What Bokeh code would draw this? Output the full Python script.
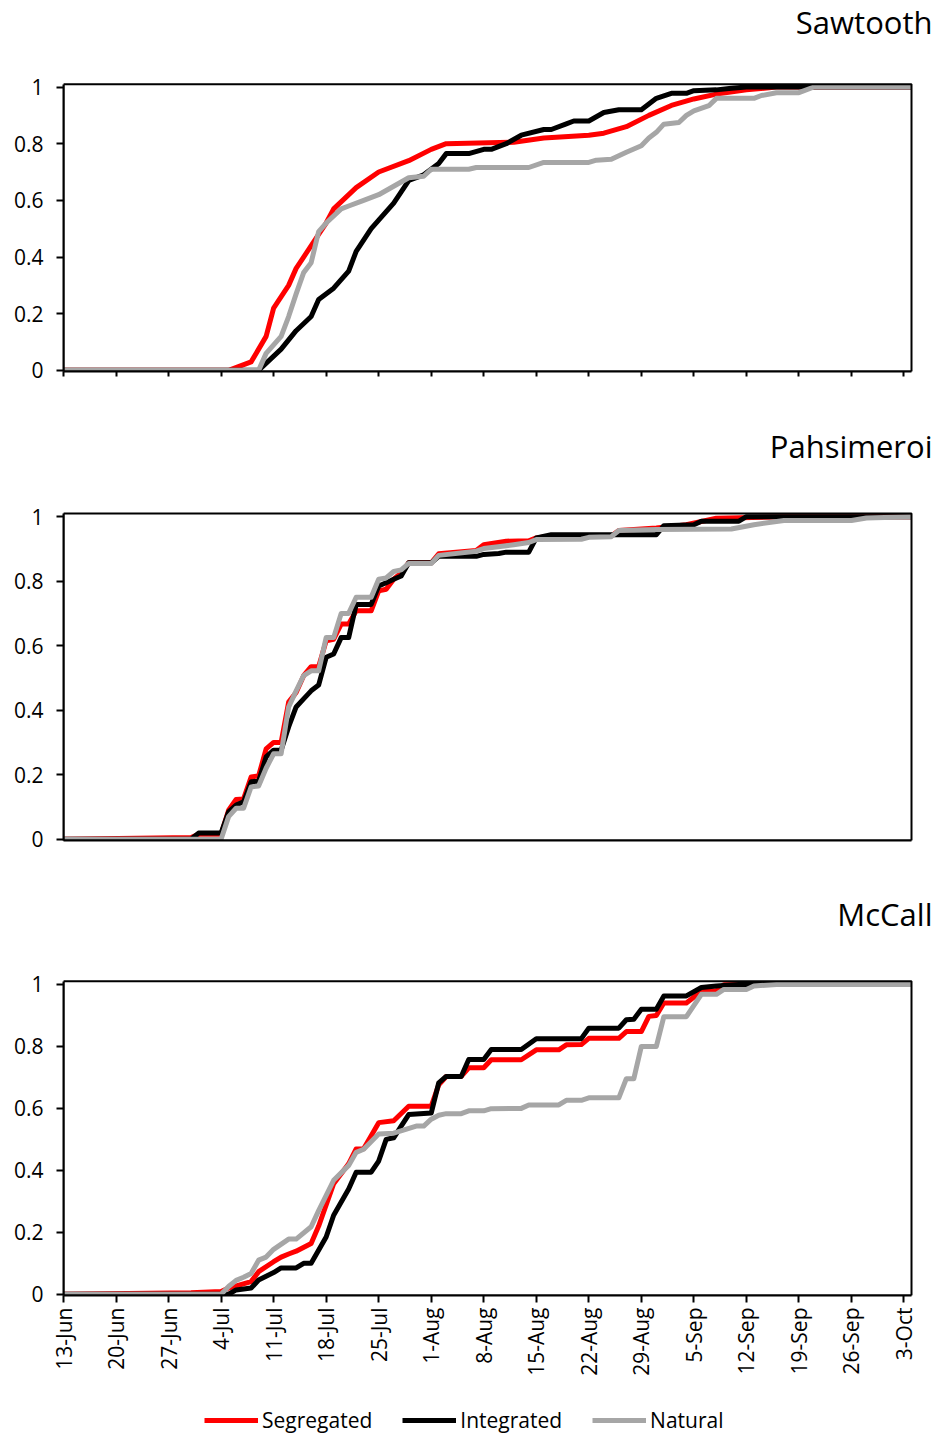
import math
import pandas as pd
from bokeh.plotting import figure
from bokeh.layouts import column
from bokeh.models import (Range1d, FixedTicker, CustomJSTickFormatter, Label,
                          Legend, LegendItem, BoxAnnotation)
from bokeh.embed import file_html
from bokeh.resources import INLINE

YEAR = 2013
START = "06-13"

tick_labels = ["13-Jun", "20-Jun", "27-Jun", "4-Jul", "11-Jul", "18-Jul", "25-Jul",
               "1-Aug", "8-Aug", "15-Aug", "22-Aug", "29-Aug", "5-Sep", "12-Sep",
               "19-Sep", "26-Sep", "3-Oct"]
y_ticks = [0, 0.2, 0.4, 0.6, 0.8, 1]
panel_titles = ["Sawtooth", "Pahsimeroi", "McCall"]
series_names = ["Segregated", "Integrated", "Natural"]
series_colors = ["#FF0000", "#000000", "#A6A6A6"]

# ---- Sawtooth ----
saw_seg_dates = ["06-13", "07-05", "07-08", "07-10", "07-11", "07-13", "07-14", "07-15", "07-17", "07-18",
                 "07-19", "07-22", "07-25", "07-29", "08-01", "08-03", "08-12", "08-16", "08-22", "08-24",
                 "08-27", "08-30", "09-02", "09-05", "09-08", "09-12", "09-16", "10-04"]
saw_seg_vals = [0, 0, 0.03, 0.12, 0.22, 0.30, 0.36, 0.40, 0.48, 0.52,
                0.57, 0.645, 0.70, 0.74, 0.78, 0.80, 0.805, 0.82, 0.83, 0.837,
                0.86, 0.90, 0.935, 0.958, 0.975, 0.99, 1.0, 1.0]
saw_int_dates = ["06-13", "07-09", "07-12", "07-14", "07-16", "07-17", "07-19", "07-21", "07-22", "07-24",
                 "07-25", "07-27", "07-28", "07-29", "07-31", "08-02", "08-03", "08-06", "08-08", "08-09",
                 "08-11", "08-13", "08-16", "08-17", "08-19", "08-20", "08-22", "08-24", "08-26", "08-29",
                 "08-31", "09-02", "09-04", "09-05", "09-08", "09-10", "09-12", "10-04"]
saw_int_vals = [0, 0, 0.075, 0.14, 0.19, 0.25, 0.29, 0.35, 0.42, 0.50,
                0.53, 0.59, 0.63, 0.67, 0.69, 0.73, 0.765, 0.765, 0.78, 0.78,
                0.80, 0.83, 0.85, 0.85, 0.87, 0.88, 0.88, 0.91, 0.92, 0.92,
                0.96, 0.978, 0.978, 0.987, 0.99, 0.996, 1.0, 1.0]
saw_nat_dates = ["06-13", "07-09", "07-10", "07-12", "07-13", "07-14", "07-15", "07-16", "07-17", "07-18",
                 "07-20", "07-21", "07-23", "07-25", "07-27", "07-29", "07-31", "08-01", "08-06", "08-07",
                 "08-14", "08-16", "08-22", "08-23", "08-25", "08-27", "08-29", "08-30", "08-31", "09-01",
                 "09-03", "09-04", "09-05", "09-07", "09-08", "09-13", "09-14", "09-16", "09-19", "09-21",
                 "10-04"]
saw_nat_vals = [0, 0, 0.06, 0.12, 0.19, 0.27, 0.345, 0.38, 0.49, 0.52,
                0.57, 0.58, 0.60, 0.62, 0.65, 0.68, 0.685, 0.71, 0.71, 0.716,
                0.716, 0.734, 0.734, 0.742, 0.745, 0.77, 0.793, 0.82, 0.84, 0.869,
                0.875, 0.90, 0.916, 0.934, 0.96, 0.96, 0.97, 0.98, 0.98, 1.0,
                1.0]

# ---- Pahsimeroi ----
pah_seg_dates = ["06-13", "06-30", "07-01", "07-04", "07-05", "07-06", "07-07", "07-08", "07-09", "07-10",
                 "07-11", "07-12", "07-13", "07-14", "07-15", "07-16", "07-17", "07-18", "07-19", "07-20",
                 "07-21", "07-22", "07-24", "07-25", "07-26", "07-27", "07-28", "07-29", "08-01", "08-02",
                 "08-07", "08-08", "08-11", "08-14", "08-15", "08-17", "08-25", "08-26", "08-31", "09-04",
                 "09-08", "09-17", "10-04"]
pah_seg_vals = [0, 0.005, 0.015, 0.015, 0.09, 0.123, 0.125, 0.193, 0.196, 0.28,
                0.30, 0.30, 0.425, 0.455, 0.507, 0.535, 0.535, 0.615, 0.62, 0.667,
                0.667, 0.708, 0.708, 0.77, 0.775, 0.806, 0.826, 0.857, 0.857, 0.885,
                0.895, 0.913, 0.924, 0.925, 0.934, 0.94, 0.94, 0.957, 0.965, 0.975,
                0.995, 1.0, 1.0]
pah_int_dates = ["06-13", "06-30", "07-01", "07-04", "07-05", "07-06", "07-07", "07-08", "07-09", "07-10",
                 "07-11", "07-12", "07-13", "07-14", "07-15", "07-16", "07-17", "07-18", "07-19", "07-20",
                 "07-21", "07-22", "07-24", "07-25", "07-26", "07-27", "07-28", "07-29", "08-01", "08-02",
                 "08-07", "08-08", "08-10", "08-11", "08-14", "08-15", "08-17", "08-31", "09-01", "09-05",
                 "09-06", "09-11", "09-12", "10-04"]
pah_int_vals = [0, 0, 0.019, 0.019, 0.085, 0.106, 0.116, 0.178, 0.18, 0.255,
                0.276, 0.276, 0.348, 0.41, 0.435, 0.46, 0.478, 0.564, 0.574, 0.625,
                0.625, 0.728, 0.728, 0.785, 0.795, 0.806, 0.816, 0.857, 0.857, 0.877,
                0.877, 0.883, 0.886, 0.89, 0.89, 0.934, 0.944, 0.944, 0.972, 0.975,
                0.986, 0.986, 1.0, 1.0]
pah_nat_dates = ["06-13", "07-04", "07-05", "07-06", "07-07", "07-08", "07-09", "07-10", "07-11", "07-12",
                 "07-13", "07-14", "07-15", "07-16", "07-17", "07-18", "07-19", "07-20", "07-21", "07-22",
                 "07-24", "07-25", "07-26", "07-27", "07-28", "07-29", "08-01", "08-02", "08-07", "08-08",
                 "08-11", "08-12", "08-14", "08-15", "08-21", "08-22", "08-25", "08-26", "08-31", "09-10",
                 "09-13", "09-17", "09-26", "09-28", "10-04"]
pah_nat_vals = [0, 0, 0.07, 0.096, 0.096, 0.162, 0.165, 0.22, 0.265, 0.265,
                0.41, 0.46, 0.507, 0.522, 0.522, 0.625, 0.625, 0.70, 0.70, 0.75,
                0.75, 0.806, 0.81, 0.83, 0.835, 0.855, 0.855, 0.88, 0.893, 0.901,
                0.91, 0.913, 0.92, 0.929, 0.93, 0.936, 0.938, 0.957, 0.96, 0.962,
                0.975, 0.988, 0.988, 0.996, 1.0]

# ---- McCall ----
mcc_seg_dates = ["06-13", "06-30", "07-04", "07-05", "07-08", "07-09", "07-11", "07-12", "07-13", "07-14",
                 "07-16", "07-17", "07-19", "07-21", "07-22", "07-23", "07-25", "07-27", "07-29", "08-01",
                 "08-02", "08-03", "08-05", "08-06", "08-08", "08-09", "08-13", "08-15", "08-18", "08-19",
                 "08-21", "08-22", "08-26", "08-27", "08-29", "08-30", "08-31", "09-01", "09-04", "09-06",
                 "09-08", "09-09", "09-12", "10-04"]
mcc_seg_vals = [0, 0.005, 0.009, 0.02, 0.041, 0.073, 0.105, 0.12, 0.13, 0.139,
                0.164, 0.22, 0.357, 0.421, 0.469, 0.47, 0.554, 0.56, 0.607, 0.607,
                0.676, 0.703, 0.703, 0.731, 0.731, 0.757, 0.757, 0.789, 0.789, 0.805,
                0.806, 0.826, 0.826, 0.848, 0.848, 0.897, 0.90, 0.94, 0.94, 0.978,
                0.98, 0.999, 1.0, 1.0]
mcc_int_dates = ["06-13", "07-05", "07-06", "07-08", "07-09", "07-11", "07-12", "07-14", "07-15", "07-16",
                 "07-18", "07-19", "07-21", "07-22", "07-24", "07-25", "07-26", "07-27", "07-28", "07-29",
                 "08-01", "08-02", "08-03", "08-05", "08-06", "08-08", "08-09", "08-13", "08-15", "08-21",
                 "08-22", "08-26", "08-27", "08-28", "08-29", "08-31", "09-01", "09-04", "09-06", "09-08",
                 "09-11", "10-04"]
mcc_int_vals = [0, 0, 0.014, 0.02, 0.046, 0.07, 0.085, 0.085, 0.10, 0.10,
                0.185, 0.255, 0.34, 0.394, 0.394, 0.43, 0.50, 0.505, 0.543, 0.58,
                0.585, 0.682, 0.703, 0.703, 0.758, 0.758, 0.79, 0.79, 0.825, 0.825,
                0.859, 0.859, 0.886, 0.888, 0.92, 0.92, 0.963, 0.963, 0.99, 0.995,
                1.0, 1.0]
mcc_nat_dates = ["06-13", "07-04", "07-05", "07-06", "07-07", "07-08", "07-09", "07-10", "07-11", "07-13",
                 "07-14", "07-16", "07-17", "07-19", "07-21", "07-22", "07-23", "07-25", "07-27", "07-30",
                 "07-31", "08-01", "08-02", "08-03", "08-05", "08-06", "08-08", "08-09", "08-13", "08-14",
                 "08-18", "08-19", "08-21", "08-22", "08-26", "08-27", "08-28", "08-29", "08-31", "09-01",
                 "09-04", "09-06", "09-08", "09-09", "09-12", "09-13", "09-16", "10-04"]
mcc_nat_vals = [0, 0, 0.025, 0.045, 0.055, 0.067, 0.11, 0.12, 0.145, 0.178,
                0.178, 0.218, 0.27, 0.368, 0.416, 0.458, 0.468, 0.517, 0.52, 0.543,
                0.543, 0.565, 0.578, 0.583, 0.583, 0.592, 0.592, 0.599, 0.60, 0.611,
                0.611, 0.626, 0.626, 0.634, 0.634, 0.696, 0.696, 0.80, 0.80, 0.896,
                0.896, 0.968, 0.968, 0.984, 0.984, 0.995, 1.0, 1.0]

panel_data = [
    [(saw_seg_dates, saw_seg_vals), (saw_int_dates, saw_int_vals), (saw_nat_dates, saw_nat_vals)],
    [(pah_seg_dates, pah_seg_vals), (pah_int_dates, pah_int_vals), (pah_nat_dates, pah_nat_vals)],
    [(mcc_seg_dates, mcc_seg_vals), (mcc_int_dates, mcc_int_vals), (mcc_nat_dates, mcc_nat_vals)],
]

t0 = pd.Timestamp(f"{YEAR}-{START}")


def to_days(dates):
    return [(pd.Timestamp(f"{YEAR}-{d}") - t0).days for d in dates]


tick_days = [(pd.to_datetime(f"{lab}-{YEAR}", format="%d-%b-%Y") - t0).days for lab in tick_labels]
x_end = tick_days[-1] + 1          # plot area ends one day after the last tick

FONT = "Open Sans"
W = 938
LEFT = 63                 # left border
RIGHT = 2                 # right border of the (extended) frame
PLOT_W = 848              # width of the drawn plot area
FRAME_W = W - LEFT - RIGHT
x_range_end = x_end * FRAME_W / PLOT_W
Y0, Y1, YTOP = -0.004, 1.01, 1.016
LINE_W = 5
TITLE_PX = 31
TITLE_MID = 12            # distance from text centre down to its baseline, px


def bare_fig(height):
    f = figure(width=W, height=height, min_border_left=LEFT, min_border_right=RIGHT,
               min_border_top=0, min_border_bottom=0,
               output_backend="svg", toolbar_location=None,
               x_axis_type=None, y_axis_type=None,
               x_range=Range1d(0, 1), y_range=Range1d(0, 1),
               background_fill_color="white", border_fill_color="white")
    f.outline_line_color = None
    f.xgrid.visible = False
    f.ygrid.visible = False
    return f


def title_fig(text, height, baseline_from_top):
    f = bare_fig(height)
    centre_from_bottom = height - (baseline_from_top - TITLE_MID)
    f.add_layout(Label(x=FRAME_W - 4, y=centre_from_bottom, x_units="screen", y_units="screen",
                       text=text, text_align="right", text_baseline="middle",
                       text_font=FONT, text_font_size=f"{TITLE_PX}px", text_color="black"))
    return f


# per panel: title strip height, title baseline (from top of strip),
#            frame height, top border, bottom border
layout_spec = [(66, 33.5, 289, 16, 49),
               (75, 37.5, 329, 16, 50),
               (75, 35.5, 316, 14, 85)]

blocks = []
for i, (title, series) in enumerate(zip(panel_titles, panel_data)):
    th, tb, fh, bt, bb = layout_spec[i]
    blocks.append(title_fig(title, th, tb))

    p = figure(frame_width=FRAME_W, frame_height=fh,
               x_range=Range1d(0, x_range_end), y_range=Range1d(Y0, YTOP),
               min_border_left=LEFT, min_border_right=RIGHT,
               min_border_top=bt, min_border_bottom=bb,
               output_backend="svg", toolbar_location=None,
               background_fill_color="white", border_fill_color="white")
    p.xgrid.visible = False
    p.ygrid.visible = False
    p.outline_line_color = None
    # plot-area border
    p.add_layout(BoxAnnotation(left=0, right=x_end, bottom=Y0, top=Y1,
                               fill_alpha=0, line_color="black", line_alpha=1, line_width=2))

    for (dts, vals), color in zip(series, series_colors):
        p.line(to_days(dts), vals, line_color=color, line_width=LINE_W, line_join="round")

    ya = p.yaxis[0]
    ya.ticker = FixedTicker(ticks=y_ticks)
    ya.formatter = CustomJSTickFormatter(code="return String(Math.round(tick*10)/10);")
    ya.bounds = (Y0, Y1)
    ya.axis_line_width = 2
    ya.major_tick_line_width = 2
    ya.major_tick_out = 7
    ya.major_tick_in = 0
    ya.minor_tick_line_color = None
    ya.major_label_standoff = 13
    ya.major_label_text_font = FONT
    ya.major_label_text_font_size = "21px"
    ya.major_label_text_color = "black"

    xa = p.xaxis[0]
    xa.ticker = FixedTicker(ticks=tick_days)
    xa.bounds = (0, x_end)
    xa.axis_line_width = 2
    xa.major_tick_line_width = 2
    xa.major_tick_in = 0
    xa.minor_tick_line_color = None
    if i == 2:
        xa.formatter = CustomJSTickFormatter(
            args=dict(tdays=tick_days, tlabels=tick_labels),
            code="const k = tdays.indexOf(Math.round(tick)); return k >= 0 ? tlabels[k] : '';")
        xa.major_tick_out = 7
        xa.major_label_orientation = math.pi / 2
        xa.major_label_standoff = 5
        xa.major_label_text_font = FONT
        xa.major_label_text_font_size = "21px"
        xa.major_label_text_color = "black"
    elif i == 0:
        xa.formatter = CustomJSTickFormatter(code="return '';")
        xa.major_tick_out = 5
    else:
        xa.formatter = CustomJSTickFormatter(code="return '';")
        xa.major_tick_out = 0
    blocks.append(p)

# legend strip under the bottom panel
used = sum(th + fh + bt + bb for th, tb, fh, bt, bb in layout_spec)
leg_h = 1435 - used
lf = bare_fig(leg_h)
leg_renderers = [lf.line([math.nan], [math.nan], line_color=c, line_width=LINE_W)
                 for c in series_colors]
legend = Legend(items=[LegendItem(label=n, renderers=[r]) for n, r in zip(series_names, leg_renderers)],
                orientation="horizontal", location=(141, 1),
                glyph_width=54, glyph_height=28, label_standoff=4, spacing=30,
                padding=0, margin=0, border_line_alpha=0, background_fill_alpha=0,
                label_text_font=FONT, label_text_font_size="21px", label_text_color="black",
                label_height=28)
lf.add_layout(legend)
blocks.append(lf)

layout = column(*blocks, spacing=0)
with open("out.html", "w") as f:
    f.write(file_html(layout, INLINE))
